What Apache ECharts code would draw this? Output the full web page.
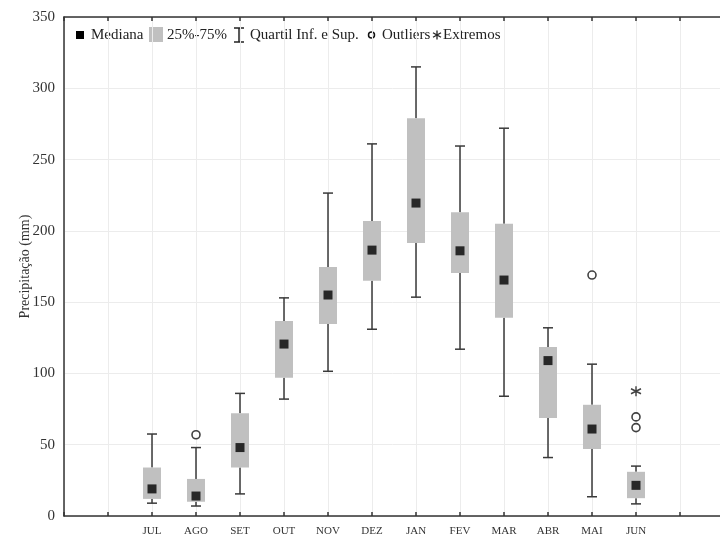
<!DOCTYPE html>
<html>
<head>
<meta charset="utf-8">
<script src="https://cdn.jsdelivr.net/npm/echarts@6/dist/echarts.min.js"></script>
<style>
html,body{margin:0;padding:0;background:#fff;}
#chart{width:720px;height:534px;}
</style>
</head>
<body>
<div id="chart"></div>
<script>
var months = ['JUL','AGO','SET','OUT','NOV','DEZ','JAN','FEV','MAR','ABR','MAI','JUN'];
var whiskerLow  = [9, 7, 15.5, 82, 101.5, 131, 153.5, 117, 84, 41, 13.5, 8.5];
var q1          = [12, 10, 34, 97, 134.6, 165, 191.5, 170.5, 139, 68.7, 47, 12.5];
var median      = [19, 14, 48, 120.6, 155, 186.5, 219.5, 186, 165.5, 109, 61, 21.5];
var q3          = [34, 26, 72, 136.7, 174.6, 207, 279, 213, 205, 118.5, 78, 31];
var whiskerHigh = [57.5, 48, 86, 153, 226.5, 261, 315, 259.5, 272, 132, 106.5, 35];
var outlierMonths = ['AGO','MAI','JUN','JUN'];
var outlierValues = [57, 169, 69.5, 62];
var extremeMonths = ['JUN'];
var extremeValues = [87.5];
var yTicks = [0, 50, 100, 150, 200, 250, 300, 350];

var POS0 = 2; // first month position on the value x axis
function pos(m){ return months.indexOf(m) + POS0; }

var boxData = months.map(function(m, i){
  return [i + POS0, whiskerLow[i], q1[i], q3[i], whiskerHigh[i]];
});
var medData = months.map(function(m, i){ return [i + POS0, median[i]]; });
var outData = outlierMonths.map(function(m, i){ return [pos(m), outlierValues[i]]; });
var extData = extremeMonths.map(function(m, i){ return [pos(m), extremeValues[i]]; });

var SERIF = '"Liberation Serif","DejaVu Serif",serif';
var chart = echarts.init(document.getElementById('chart'), null, {renderer:'canvas'});

function renderBox(params, api){
  var x = api.value(0);
  var pLow = api.coord([x, api.value(1)]);
  var pQ1 = api.coord([x, api.value(2)]);
  var pQ3 = api.coord([x, api.value(3)]);
  var pHigh = api.coord([x, api.value(4)]);
  var cx = pLow[0];
  var bw = 18, cw = 10;
  var ls = {stroke:'#3a3a3a', lineWidth:1.5};
  return {
    type:'group',
    children:[
      {type:'line', shape:{x1:cx, y1:pQ3[1], x2:cx, y2:pHigh[1]}, style:ls},
      {type:'line', shape:{x1:cx, y1:pQ1[1], x2:cx, y2:pLow[1]}, style:ls},
      {type:'line', shape:{x1:cx-cw/2, y1:pHigh[1], x2:cx+cw/2, y2:pHigh[1]}, style:ls},
      {type:'line', shape:{x1:cx-cw/2, y1:pLow[1], x2:cx+cw/2, y2:pLow[1]}, style:ls},
      {type:'rect', shape:{x:cx-bw/2, y:pQ3[1], width:bw, height:pQ1[1]-pQ3[1]}, style:{fill:'#c0c0c0'}}
    ]
  };
}

var asteriskPath = 'path://M5,0 L5,10 M0.67,2.5 L9.33,7.5 M0.67,7.5 L9.33,2.5';

var legendY = 35;
function lt(x, s){
  return {type:'text', x:x, y:legendY,
    style:{text:s, font:'15px ' + SERIF, fill:'#222', textVerticalAlign:'middle', verticalAlign:'middle'}};
}
function ln(x1, y1, x2, y2, w){
  return {type:'line', shape:{x1:x1, y1:y1, x2:x2, y2:y2}, style:{stroke:'#222', lineWidth:w || 1.5}};
}

var option = {
  animation:false,
  backgroundColor:'#fff',
  grid:{left:64, top:17, right:-4, bottom:18, containLabel:false, outerBoundsMode:'none'},
  xAxis:[{
    type:'value', min:0, max:15, interval:1, position:'bottom',
    axisLine:{lineStyle:{color:'#333', width:1.5}},
    axisTick:{inside:true, length:4, lineStyle:{color:'#333', width:1.5}},
    axisLabel:{margin:10, color:'#333', fontFamily:SERIF, fontSize:11,
      formatter:function(v){ var m = months[v-POS0]; return m ? m : ''; }},
    splitLine:{show:true, lineStyle:{color:'#ececec', width:1}}
  },{
    type:'value', min:0, max:15, interval:1, position:'top',
    axisLine:{show:true, lineStyle:{color:'#333', width:1.5}},
    axisTick:{show:true, inside:true, length:4, lineStyle:{color:'#333', width:1.5}},
    axisLabel:{show:false}, splitLine:{show:false}
  }],
  yAxis:{
    type:'value', min:yTicks[0], max:yTicks[yTicks.length-1], interval:50,
    name:'Precipitação (mm)', nameLocation:'middle', nameGap:32, nameMoveOverlap:false,
    nameTextStyle:{color:'#333', fontFamily:SERIF, fontSize:14},
    axisLine:{show:true, lineStyle:{color:'#333', width:1.5}},
    axisTick:{show:false},
    axisLabel:{margin:9, color:'#333', fontFamily:SERIF, fontSize:15},
    splitLine:{show:true, lineStyle:{color:'#ececec', width:1}}
  },
  series:[
    {type:'custom', name:'25%-75%', renderItem:renderBox, data:boxData,
     encode:{x:0, y:[1,2,3,4]}, z:2},
    {type:'scatter', name:'Mediana', data:medData, symbol:'rect', symbolSize:9,
     itemStyle:{color:'#000'}, z:5},
    {type:'scatter', name:'Outliers', data:outData, symbol:'circle', symbolSize:8,
     itemStyle:{color:'#fff', borderColor:'#111', borderWidth:1.6}, z:5},
    {type:'scatter', name:'Extremos', data:extData, symbol:asteriskPath, symbolSize:10,
     itemStyle:{color:'none', borderColor:'#111', borderWidth:1.4}, z:5}
  ],
  graphic:[
    {type:'rect', shape:{x:76, y:legendY-4, width:8, height:8}, style:{fill:'#000'}},
    lt(91, 'Mediana'),
    {type:'rect', shape:{x:149, y:legendY-8, width:14, height:15}, style:{fill:'#c0c0c0'}},
    lt(167, '25%-75%'),
    ln(239, legendY-7, 239, legendY+7),
    ln(234, legendY-7, 244, legendY-7),
    ln(234, legendY+7, 244, legendY+7),
    lt(250, 'Quartil Inf. e Sup.'),
    {type:'circle', shape:{cx:371.5, cy:legendY, r:3}, style:{fill:'#fff', stroke:'#111', lineWidth:1.5}},
    lt(382, 'Outliers'),
    ln(437, legendY-4.5, 437, legendY+4.5, 1.3),
    ln(433, legendY-2.3, 441, legendY+2.3, 1.3),
    ln(433, legendY+2.3, 441, legendY-2.3, 1.3),
    lt(443, 'Extremos')
  ]
};
chart.setOption(option);
</script>
</body>
</html>
